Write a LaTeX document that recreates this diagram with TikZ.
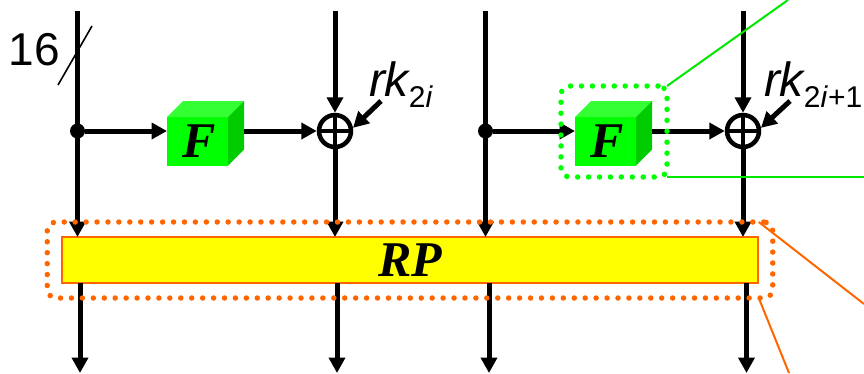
\documentclass[tikz,border=0pt]{standalone}
\usepackage{fontspec}
\setmainfont{Liberation Sans}
\newfontfamily\timesf{Liberation Serif}
\usetikzlibrary{arrows.meta}
\definecolor{cubefront}{HTML}{00FF00}
\definecolor{cubetop}{HTML}{33FF33}
\definecolor{cubeside}{HTML}{00CC00}
\definecolor{leadgreen}{HTML}{00E800}
\definecolor{oran}{HTML}{FF6600}
\definecolor{rpfill}{HTML}{FFFF00}
\newcommand{\rklabel}[1]{\fontsize{48}{50}\selectfont\itshape rk\raisebox{-11pt}{\fontsize{30}{32}\selectfont\upshape #1}}
\tikzset{
  wire/.style={line width=5pt,black},
  arr/.style={wire,-{Triangle[width=16pt,length=15.5pt]}},
  xorn/.style={circle,draw=black,line width=4.5pt,minimum size=32pt,inner sep=0pt},
  cube/.style={rectangle,fill=cubefront,minimum width=61pt,minimum height=48.5pt,inner sep=0pt,outer sep=0pt,font=\timesf\bfseries\itshape\fontsize{50}{52}\selectfont},
  dotbox/.style={rectangle,rounded corners=9pt,line cap=round,dash pattern=on 0pt off 10.93pt,line width=5.5pt,inner sep=0pt,outer sep=0pt,fill=none},
  dot/.style={circle,fill=black,minimum size=15pt,inner sep=0pt},
  lead/.style={line width=2pt},
  txt/.style={inner sep=0pt,outer sep=0pt}
}
\newcommand{\cubeshade}[1]{%
  \fill[cubetop] (#1.north west) -- ++(16,-16) -- ++(61,0) -- (#1.north east) -- cycle;
  \fill[cubeside] (#1.north east) -- ++(16,-16) -- ++(0,48.5) -- (#1.south east) -- cycle;
  \coordinate (#1e) at (#1.east |- 0,131);
  \coordinate (#1e) at ([xshift=16pt]#1e);
  \coordinate (#1w) at (#1.west |- 0,131);}
\begin{document}
\begin{tikzpicture}[x=1pt,y=-1pt]
\useasboundingbox (0,0) rectangle (864,373);
% nodes
\node[rectangle,draw=oran,fill=rpfill,line width=2pt,outer sep=0pt,minimum width=696pt,minimum height=46pt,inner sep=0pt,font=\timesf\bfseries\itshape\fontsize{50}{52}\selectfont] (rp) at (410,260) {RP};
\node[cube] (f1) at (197.5,141.25) {\hspace*{3pt}F};
\node[cube] (f2) at (605.5,141.25) {\hspace*{3pt}F};
\cubeshade{f1}
\cubeshade{f2}
\node[xorn] (x1) at (335,131) {};
\node[xorn] (x2) at (743,131) {};
\coordinate (t1) at (77.5,11);
\coordinate (t2) at (335,11);
\coordinate (t3) at (485.5,11);
\coordinate (t4) at (743,11);
\coordinate (b1) at (80,373);
\coordinate (b2) at (337,373);
\coordinate (b3) at (489,373);
\coordinate (b4) at (746.5,373);
\node[dot] (j1) at (77.5,131) {};
\node[dot] (j2) at (485.5,131) {};
% wires
\draw[arr] (t1) -- (t1 |- rp.north);
\draw[arr] (t3) -- (t3 |- rp.north);
\draw[arr] (t2) -- (x1.north);
\draw[arr] (t4) -- (x2.north);
\draw[arr] (x1.south) -- (t2 |- rp.north);
\draw[arr] (x2.south) -- (t4 |- rp.north);
\foreach \b in {b1,b2,b3,b4}{\draw[arr] (\b |- rp.south) -- (\b);}
\draw[line width=3.5pt] (x1.north) -- (x1.south) (x1.west) -- (x1.east);
\draw[line width=3.5pt] (x2.north) -- (x2.south) (x2.west) -- (x2.east);
\draw[arr] (j1) -- (f1w);
\draw[arr] (j2) -- (f2w);
\draw[arr] (f1e) -- (x1.west);
\draw[arr] (f2e) -- (x2.west);
% round keys
\coordinate (k1) at (381,101);
\coordinate (k2) at (790,101);
\draw[arr] (k1) -- (x1.10);
\draw[arr] (k2) -- (x2.10);
\node[txt,anchor=base west] (rk1) at (369,96) {\rklabel{2\textit{i}}};
\node[txt,anchor=base west] (rk2) at (764,96) {\rklabel{2\textit{i}+1}};
% width label
\node[txt,anchor=base west] (n16) at (9,65) {\fontsize{46}{50}\selectfont 16};
\coordinate (s1) at (58,85);
\coordinate (s2) at (92,26);
\draw[line width=1.6pt] (s1) -- (s2);
% highlights
\node[dotbox,draw=cubefront,minimum width=106pt,minimum height=91pt] (gbox) at (614,131.5) {};
\node[dotbox,draw=oran,minimum width=725.5pt,minimum height=76pt] (obox) at (410,260) {};
% leaders
\coordinate (g1) at (788,0);
\coordinate (g2) at (864,177);
\draw[lead,leadgreen] (gbox.north east) -- (g1);
\draw[lead,leadgreen] (gbox.south east) -- (g2);
\coordinate (o1) at (864,304);
\coordinate (o2) at (789,373);
\draw[lead,oran] ([xshift=-14pt]obox.north east) -- (o1);
\draw[lead,oran] ([xshift=-14pt]obox.south east) -- (o2);
\end{tikzpicture}
\end{document}
